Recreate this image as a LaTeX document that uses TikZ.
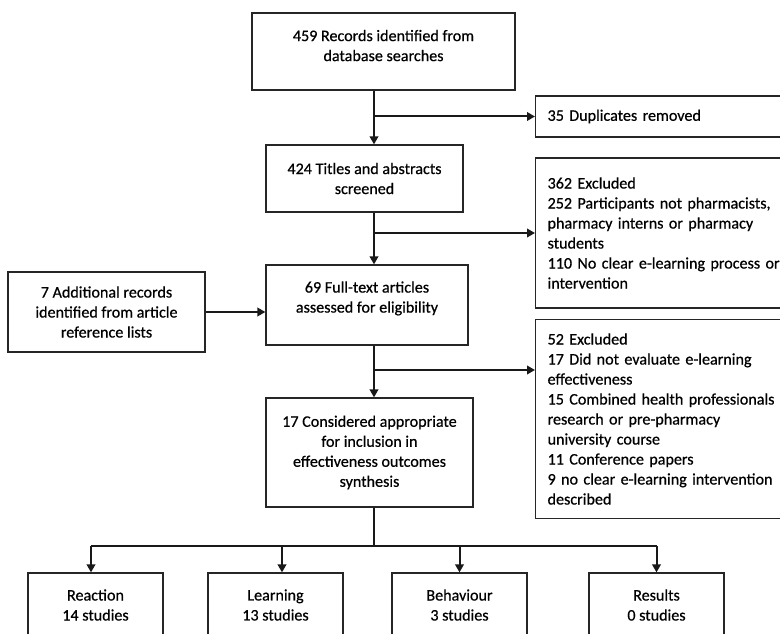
\documentclass[tikz,border=0pt]{standalone}
\usepackage{fontspec}
\setmainfont{Carlito}
\newfontfamily\flowfont{Carlito}[RawFeature={embolden=0.6}]
\usetikzlibrary{arrows.meta,positioning,calc}

\tikzset{
  box/.style={draw=black!85, line width=1.2pt, align=center, inner sep=0pt,
    font=\flowfont\fontsize{16.1}{20}\selectfont, text=black},
  exclbox/.style={box, align=left, anchor=west, text width=250pt, inner xsep=12pt},
  link/.style={draw=black!90, line width=2pt},
  arrow/.style={link, -{Triangle[length=8pt,width=8.5pt]}}
}

\begin{document}
\begin{tikzpicture}[x=1pt, y=-1pt]
    \useasboundingbox (0,0) rectangle (780,634);
    \coordinate (spine) at (374,0);

    % Main column
    \node[box, minimum width=263pt, minimum height=77pt, text depth=12pt] (rec) at (383.5,51.5)
        {459 Records identified from\\database searches};
    \node[box, minimum width=197pt, minimum height=67pt] (scr) at (364.5,178.5)
        {424 Titles and abstracts\\screened};
    \node[box, minimum width=202pt, minimum height=80pt, text depth=16pt] (full) at (367,305)
        {69 Full-text articles\\assessed for eligibility};
    \node[box, minimum width=207pt, minimum height=109pt] (incl) at (369.5,452.5)
        {17 Considered appropriate\\for inclusion in\\effectiveness outcomes\\synthesis};

    % Side boxes
    \node[box, minimum width=197pt, minimum height=80pt] (add) at (106.5,312)
        {7 Additional records\\identified from article\\reference lists};
    \node[exclbox, minimum height=41pt] (dup) at (535,116.5) {35 Duplicates removed};
    \node[exclbox, minimum height=150pt] (excl1) at (535,233)
        {362 Excluded\\252 Participants not pharmacists,\\pharmacy interns or pharmacy\\students\\110 No clear e-learning process or\\intervention};
    \node[exclbox, minimum height=199pt] (excl2) at (535,419)
        {52 Excluded\\17 Did not evaluate e-learning\\effectiveness\\15 Combined health professionals\\research or pre-pharmacy\\university course\\11 Conference papers\\9 no clear e-learning intervention\\described};

    % Outcome levels
    \node[box, minimum width=135pt, minimum height=64pt] (react) at (95.5,605) {Reaction\\14 studies};
    \node[box, minimum width=135pt, minimum height=64pt] (learn) at (275.5,605) {Learning\\13 studies};
    \node[box, minimum width=135pt, minimum height=64pt] (behav) at (459.5,605) {Behaviour\\3 studies};
    \node[box, minimum width=135pt, minimum height=64pt] (res) at (656.5,605) {Results\\0 studies};

    \coordinate (fork2) at (374,370);
    \coordinate (hub) at (374,546);

    % Connectors
    \draw[arrow] (spine |- rec.south) -- (spine |- scr.north);
    \draw[arrow] (spine |- dup.west) -- (dup.west);
    \draw[arrow] (spine |- scr.south) -- (spine |- full.north);
    \draw[arrow] (spine |- excl1.west) -- (excl1.west);
    \draw[arrow] (add.east) -- (add.east -| full.west);
    \draw[arrow] (spine |- full.south) -- (spine |- incl.north);
    \draw[arrow] (fork2) -- (fork2 -| excl2.west);
    \draw[link] (spine |- incl.south) -- (hub);
    \draw[link] ([xshift=-4.5pt]react.north |- hub) -- (res.north |- hub);
    \draw[arrow] ([xshift=-4.5pt]react.north |- hub) -- ([xshift=-4.5pt]react.north);
    \draw[arrow] ([xshift=6.5pt]learn.north |- hub) -- ([xshift=6.5pt]learn.north);
    \draw[arrow] (behav.north |- hub) -- (behav.north);
    \draw[arrow] (res.north |- hub) -- (res.north);
\end{tikzpicture}
\end{document}
